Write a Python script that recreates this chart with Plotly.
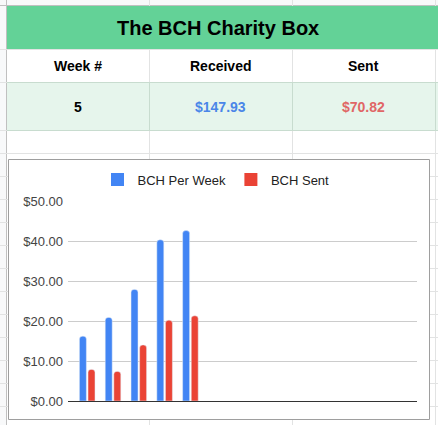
import plotly.graph_objects as go

# Tableau en haut de la feuille
titre = "The BCH Charity Box"
entetes = ["Week #", "Received", "Sent"]
valeurs_tableau = ["5", "$147.93", "$70.82"]

# Données du graphique
semaines = [1, 2, 3, 4, 5]
bch_par_semaine = [16.2, 20.9, 27.9, 40.3, 42.6]
bch_envoye = [7.9, 7.4, 14.0, 20.2, 21.3]
graduations = [0, 10, 20, 30, 40, 50]
etiquettes = ["$0.00", "$10.00", "$20.00", "$30.00", "$40.00", "$50.00"]

L, H = 438, 425
police = "Liberation Sans, Arial, sans-serif"
bleu = "#4285F4"
rouge = "#EA4335"
grille_feuille = "#e2e3e3"


def px(x):
    return x / L


def py(y):
    return 1 - y / H


def rect(x0, y0, x1, y1, fill, line=None, width=1):
    return dict(type="rect", xref="paper", yref="paper", layer="below",
                x0=px(x0), y0=py(y0), x1=px(x1), y1=py(y1),
                fillcolor=fill, line=dict(color=line or fill, width=width if line else 0))


def trait(x0, y0, x1, y1, couleur=grille_feuille):
    return dict(type="line", xref="paper", yref="paper", layer="below",
                x0=px(x0), y0=py(y0), x1=px(x1), y1=py(y1),
                line=dict(color=couleur, width=1))


formes = []
# en-têtes de la feuille (ligne du haut, colonne de gauche)
formes.append(rect(0, 0, L, 5, "#f8f9fa"))
formes.append(rect(0, 0, 6, H, "#f8f9fa"))
formes.append(trait(0, 5.5, L, 5.5, "#c0c0c0"))
formes.append(trait(6.5, 0, 6.5, H, "#c0c0c0"))

# lignes de la grille de la feuille
lignes = [49, 82, 130, 153, 176, 199, 222, 245, 268, 291, 314, 337, 360, 383, 406]
for y in lignes:
    formes.append(trait(0, y + 0.5, L, y + 0.5))
for x in [149, 292, 435]:
    formes.append(trait(x + 0.5, 0, x + 0.5, H))

# ligne des valeurs (vert pâle)
formes.append(rect(7, 82, L, 130, "#e6f5ec"))
formes.append(trait(7, 82.5, L, 82.5, "#c8dccf"))
formes.append(trait(7, 130.5, L, 130.5, "#c8dccf"))
for x in [149, 292, 435]:
    formes.append(trait(x + 0.5, 83, x + 0.5, 130, "#c8dccf"))

# bandeau du titre
formes.append(rect(7, 6, L, 49, "#63d297"))

# cadre du graphique
formes.append(rect(8.5, 159.5, 429.5, 419.5, "white", "#9e9e9e"))


def texte(t, x, y, taille, couleur):
    return dict(text="<b>" + t + "</b>", x=px(x), y=py(y), xref="paper", yref="paper",
                xanchor="center", yanchor="middle", showarrow=False,
                font=dict(size=taille, color=couleur))


annotations = [texte(titre, 218, 28, 20, "black")]
centres = [77.5, 220.5, 363.5]
couleurs_valeurs = ["black", "#4a86e8", "#e06666"]
for i in range(3):
    annotations.append(texte(entetes[i], centres[i], 66, 14, "black"))
    annotations.append(texte(valeurs_tableau[i], centres[i], 107, 14, couleurs_valeurs[i]))

fig = go.Figure()
series = [("BCH Per Week", bch_par_semaine, bleu), ("BCH Sent", bch_envoye, rouge)]
for nom, valeurs, couleur in series:
    fig.add_trace(go.Bar(x=semaines, y=valeurs, name=nom, legendgroup=nom, showlegend=False,
                         marker=dict(color=couleur, cornerradius=3)))
# carrés de la légende (comme dans Google Sheets)
for nom, valeurs, couleur in series:
    fig.add_trace(go.Scatter(x=[None], y=[None], mode="markers", name=nom, legendgroup=nom,
                             marker=dict(symbol="square", size=13, color=couleur, line=dict(width=0))))

fig.update_layout(
    width=L, height=H, autosize=False,
    margin=dict(l=0, r=0, t=0, b=0, autoexpand=False),
    paper_bgcolor="white", plot_bgcolor="rgba(0,0,0,0)",
    font=dict(family=police, size=13, color="#444"),
    barmode="group", bargap=0.333, bargroupgap=0.19,
    shapes=formes, annotations=annotations,
    showlegend=True,
    legend=dict(orientation="h", x=px(216), xanchor="center", y=py(179.5), yanchor="middle",
                font=dict(size=13, color="#222"), bgcolor="rgba(0,0,0,0)"),
    xaxis=dict(domain=[px(68), px(417)], range=[0.256, 13.78], showticklabels=False,
               showgrid=False, zeroline=False, showline=False, ticks="", automargin=False),
    yaxis=dict(domain=[py(401), py(201)], range=[0, 50], tickvals=graduations, ticktext=etiquettes,
               gridcolor="#cccccc", gridwidth=1, zeroline=True, zerolinecolor="#333333",
               zerolinewidth=1, showline=False, ticks="", ticklabelstandoff=4, automargin=False,
               tickfont=dict(size=13, color="#444")),
)

# pas de marge autour de la page
fig.write_html("out.html", config={"displayModeBar": False},
               post_script="document.body.style.margin = '0';")
